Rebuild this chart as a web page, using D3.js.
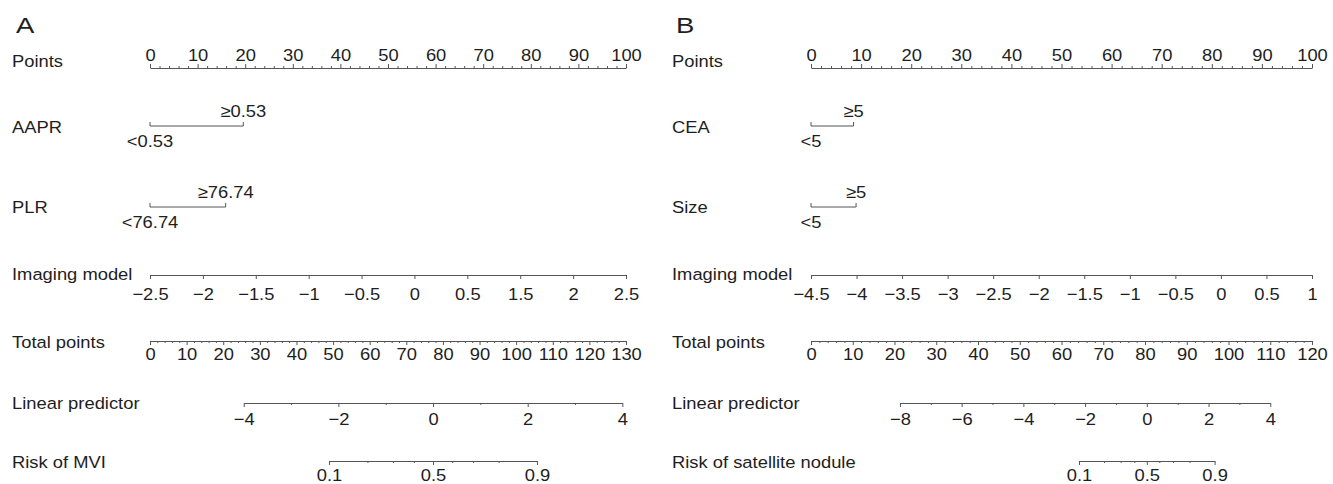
<!DOCTYPE html>
<html>
<head>
<meta charset="utf-8">
<script src="https://cdn.jsdelivr.net/npm/d3@7"></script>
<style>
  html, body { margin: 0; padding: 0; background: #fff; }
  svg text { font-family: "Liberation Sans", Arial, Helvetica, sans-serif; fill: #1e1e1e; }
</style>
</head>
<body>
<svg id="chart" width="1333" height="484"></svg>
<script>
// ---- Panel A: risk of MVI ----
const pointsTicksA = [0, 10, 20, 30, 40, 50, 60, 70, 80, 90, 100];
const aaprLevels = ["<0.53", "≥0.53"];
const aaprPoints = [0, 19.6];
const plrLevels = ["<76.74", "≥76.74"];
const plrPoints = [0, 15.9];
const imagingLabelsA = ["−2.5", "−2", "−1.5", "−1", "−0.5", "0", "0.5", "1.5", "2", "2.5"];
const totalTicksA = [0, 10, 20, 30, 40, 50, 60, 70, 80, 90, 100, 110, 120, 130];
const lpTicksA = [-4, -2, 0, 2, 4];
const lpTotalA = [25.6, 129.0];   // total points where LP = -4 and LP = 4
const riskTicksA = [0.1, 0.5, 0.9];

// ---- Panel B: risk of satellite nodule ----
const pointsTicksB = [0, 10, 20, 30, 40, 50, 60, 70, 80, 90, 100];
const ceaLevels = ["<5", "≥5"];
const ceaPoints = [0, 8.5];
const sizeLevels = ["<5", "≥5"];
const sizePoints = [0, 9.0];
const imagingTicksB = [-4.5, -4, -3.5, -3, -2.5, -2, -1.5, -1, -0.5, 0, 0.5, 1];
const totalTicksB = [0, 10, 20, 30, 40, 50, 60, 70, 80, 90, 100, 110, 120];
const lpTicksB = [-8, -6, -4, -2, 0, 2, 4];
const lpTotalB = [21.3, 110.0];   // total points where LP = -8 and LP = 4
const riskTicksB = [0.1, 0.5, 0.9];

const riskMinor = [0.2, 0.3, 0.4, 0.6, 0.7, 0.8];

const svg = d3.select("#chart");
const FONT = 17;
const SX = 1.08;
const LINE = "#555";

// axis line y and row-label y for each row
const rows = { points: 68, v1: 126, v2: 207, imaging: 275, total: 341, lp: 403, risk: 461 };
const labelY = { points: 61, v1: 127, v2: 207, imaging: 274, total: 342, lp: 403, risk: 462 };

function styleAxis(a) {
    a.select(".domain").attr("stroke", LINE).attr("stroke-width", 1.2);
    a.selectAll(".tick line").attr("stroke", LINE).attr("stroke-width", 1);
    a.selectAll("text")
        .attr("font-size", FONT)
        .attr("font-family", "Liberation Sans, Arial, sans-serif")
        .attr("fill", "#1e1e1e")
        .attr("transform", `scale(${SX},1)`);
}

function ruler(g, scale, y, side, major, minor, fmt, pad) {
    const axisFn = side === "top" ? d3.axisTop : d3.axisBottom;
    if (minor && minor.length) {
        g.append("g").attr("transform", `translate(0,${y})`)
            .call(axisFn(scale).tickValues(minor).tickSize(2).tickSizeOuter(0).tickFormat(""))
            .call(a => a.select(".domain").remove())
            .call(a => a.selectAll(".tick line").attr("stroke", LINE));
    }
    const ax = axisFn(scale).tickValues(major).tickSize(4).tickSizeOuter(0).tickPadding(pad);
    if (fmt) ax.tickFormat(fmt);
    g.append("g").attr("transform", `translate(0,${y})`).call(ax).call(styleAxis);
}

function category(g, scale, y, levels, pts) {
    g.append("line")
        .attr("x1", scale(d3.min(pts))).attr("x2", scale(d3.max(pts)))
        .attr("y1", y).attr("y2", y)
        .attr("stroke", LINE).attr("stroke-width", 1.2);
    g.selectAll(null).data(pts).enter().append("line")
        .attr("x1", d => scale(d)).attr("x2", d => scale(d))
        .attr("y1", y).attr("y2", y - 4)
        .attr("stroke", LINE);
    g.selectAll(null).data(levels).enter().append("text")
        .attr("transform", (d, i) => `translate(${scale(pts[i])},${i % 2 ? y - 9 : y + 21}) scale(${SX},1)`)
        .attr("text-anchor", "middle")
        .attr("font-size", FONT)
        .text(d => d);
}

function rowLabel(g, x, y, text) {
    g.append("text")
        .attr("transform", `translate(${x},${y}) scale(${SX},1)`)
        .attr("dy", "0.35em")
        .attr("font-size", FONT)
        .text(text);
}

function panel(cfg) {
    const g = svg.append("g");
    const xPts = d3.scaleLinear().domain([0, 100]).range([cfg.x0, cfg.x1]);
    const xTot = d3.scaleLinear().domain([0, d3.max(cfg.totalTicks)]).range([cfg.x0, cfg.x1]);
    const xLp = d3.scaleLinear().domain(d3.extent(cfg.lpTicks)).range(cfg.lpTotal.map(xTot));
    const logit = p => Math.log(p / (1 - p));

    g.append("text")
        .attr("transform", `translate(${cfg.labelX + 4},33) scale(1.25,1)`)
        .attr("font-size", 22)
        .text(cfg.letter);

    // Points
    rowLabel(g, cfg.labelX, labelY.points, "Points");
    ruler(g, xPts, rows.points, "top", cfg.pointsTicks,
        d3.range(0, 101, 2).filter(v => v % 10 !== 0), null, 3);

    // Categorical predictors
    rowLabel(g, cfg.labelX, labelY.v1, cfg.v1.name);
    category(g, xPts, rows.v1, cfg.v1.levels, cfg.v1.points);
    rowLabel(g, cfg.labelX, labelY.v2, cfg.v2.name);
    category(g, xPts, rows.v2, cfg.v2.levels, cfg.v2.points);

    // Imaging model
    rowLabel(g, cfg.labelX, labelY.imaging, "Imaging model");
    ruler(g, cfg.imagingScale.range([cfg.x0, cfg.x1]), rows.imaging, "bottom",
        cfg.imagingTicks, null, cfg.imagingFmt, 9);

    // Total points
    rowLabel(g, cfg.labelX, labelY.total, "Total points");
    ruler(g, xTot, rows.total, "bottom", cfg.totalTicks,
        d3.range(0, d3.max(cfg.totalTicks) + 1, 2).filter(v => v % 10 !== 0), null, 3);

    // Linear predictor
    rowLabel(g, cfg.labelX, labelY.lp, "Linear predictor");
    const lpMin = d3.min(cfg.lpTicks), lpMax = d3.max(cfg.lpTicks);
    ruler(g, xLp, rows.lp, "bottom", cfg.lpTicks,
        d3.range(lpMin + 1, lpMax, 2), d3.format("d"), 6);

    // Risk, on a logit scale tied to the linear predictor
    rowLabel(g, cfg.labelX, labelY.risk, cfg.riskName);
    const riskAxisScale = d3.scaleLinear()
        .domain([logit(0.1), logit(0.9)])
        .range([xLp(logit(0.1)), xLp(logit(0.9))]);
    ruler(g, riskAxisScale, rows.risk, "bottom", cfg.riskTicks.map(logit),
        riskMinor.map(logit), v => d3.format(".1f")(1 / (1 + Math.exp(-v))), 4);
}

panel({
    letter: "A", labelX: 12, x0: 150, x1: 626,
    pointsTicks: pointsTicksA,
    v1: { name: "AAPR", levels: aaprLevels, points: aaprPoints },
    v2: { name: "PLR", levels: plrLevels, points: plrPoints },
    imagingScale: d3.scalePoint().domain(imagingLabelsA),
    imagingTicks: imagingLabelsA,
    imagingFmt: d => d,
    totalTicks: totalTicksA,
    lpTicks: lpTicksA, lpTotal: lpTotalA,
    riskName: "Risk of MVI", riskTicks: riskTicksA
});

panel({
    letter: "B", labelX: 672, x0: 811, x1: 1312,
    pointsTicks: pointsTicksB,
    v1: { name: "CEA", levels: ceaLevels, points: ceaPoints },
    v2: { name: "Size", levels: sizeLevels, points: sizePoints },
    imagingScale: d3.scaleLinear().domain(d3.extent(imagingTicksB)),
    imagingTicks: imagingTicksB,
    imagingFmt: d3.format(""),
    totalTicks: totalTicksB,
    lpTicks: lpTicksB, lpTotal: lpTotalB,
    riskName: "Risk of satellite nodule", riskTicks: riskTicksB
});
</script>
</body>
</html>
